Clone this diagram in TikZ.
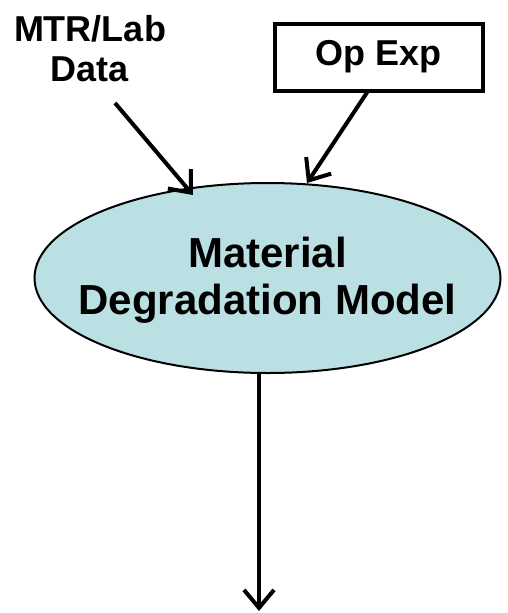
\documentclass[tikz,border=0pt]{standalone}
\usepackage{fontspec}
\setmainfont{Liberation Sans}
\usetikzlibrary{shapes.geometric,arrows.meta}
\definecolor{tealfill}{HTML}{BBE0E3}
\tikzset{
  lbl/.style={font=\bfseries\fontsize{36}{40}\selectfont, align=center, inner sep=0pt},
  model/.style={ellipse, draw=black, line width=2pt, fill=tealfill, minimum width=466pt, minimum height=190pt, inner sep=0pt},
  modeltext/.style={align=center, inner sep=0pt, font=\bfseries\fontsize{42}{47}\selectfont},
  opbox/.style={draw=black, line width=4pt, minimum width=208pt, minimum height=67pt, inner sep=0pt, font=\bfseries\fontsize{36}{40}\selectfont},
  flow/.style={line width=4pt, -{Straight Barb[length=18pt, width=30pt, line width=4pt]}}
}
\begin{document}
\begin{tikzpicture}[x=1pt, y=-1pt]
\useasboundingbox (0,0) rectangle (508,613);
\node[model] (mdm) at (267.5,278) {};
\node[modeltext] (mdmtext) at (267.5,280) {Material\\Degradation Model};
\node[lbl] (mtr) at (90,49) {MTR/Lab\\Data};
\node[opbox] (op) at (378.5,57) {Op Exp};
\coordinate (mtrstart) at (115,103);
\coordinate (mtrtip) at (193,195);
\coordinate (opstart) at (368,91);
\coordinate (optip) at (307,183);
\coordinate (outstart) at (259,373);
\coordinate (outtip) at (259,611);
\draw[flow] (mtrstart) -- (mtrtip);
\draw[flow] (opstart) -- (optip);
\draw[flow] (outstart) -- (outtip);
\end{tikzpicture}
\end{document}
